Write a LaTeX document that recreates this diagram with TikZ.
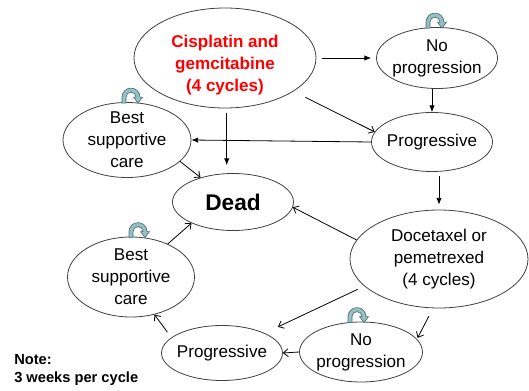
\documentclass[tikz,border=0pt]{standalone}
\usepackage{fontspec}
\setmainfont{Liberation Sans}
\usetikzlibrary{arrows.meta, shapes.geometric}
\definecolor{loopfill}{RGB}{152,192,194}
\definecolor{loopline}{RGB}{72,112,118}
\definecolor{drugred}{RGB}{255,0,0}
\tikzstyle{state}=[ellipse, draw=black!75, line width=0.6pt, inner sep=-8pt, align=center, font=\fontsize{12.8}{16.5}\selectfont]
\tikzstyle{drug}=[text=drugred, align=center, inner sep=0pt, font=\bfseries\fontsize{12.8}{16.5}\selectfont]
\tikzstyle{note}=[align=left, inner sep=0pt, font=\bfseries\fontsize{11}{13.5}\selectfont]
\tikzstyle{arrowfull}=[draw, -{Latex[length=5pt, width=4pt]}, line width=0.6pt]
\tikzstyle{arrowopen}=[draw, -{Straight Barb[length=3.5pt, width=6pt]}, line width=0.6pt]

% curved arrow sitting on top of a state
\newcommand{\selfloop}[2]{%
  \begin{scope}[shift={(#1.north)}, shift={(#2,0)}]
    \filldraw[fill=loopfill, draw=loopline, line width=0.5pt]
      (-9,-1) -- (-9,5) arc[start angle=180, end angle=0, radius=9]
      -- (11.5,5) -- (7,-1) -- (2.5,5) -- (5,5)
      arc[start angle=0, end angle=180, radius=5] -- (-5,-1) -- cycle;
  \end{scope}}

\begin{document}
\begin{tikzpicture}[x=0.75pt, y=0.75pt]
    \useasboundingbox (0,0) rectangle (529,390);

    \node[state, minimum width=136.5pt, minimum height=75pt,
      label={[drug, yshift=-5.25pt]center:{Cisplatin and\\gemcitabine\\(4 cycles)}}] (cis) at (225,332) {};
    \node[state, minimum width=90.75pt, minimum height=45.75pt] (noprogA) at (437,332) {No\\progression};
    \node[state, minimum width=90.75pt, minimum height=44.25pt] (progA) at (432,248) {Progressive};
    \node[state, minimum width=96pt, minimum height=56.25pt] (bscA) at (127,250) {Best\\supportive\\care};
    \node[state, minimum width=90.75pt, minimum height=42.75pt, font=\bfseries\fontsize{17}{20}\selectfont] (dead) at (233,188) {Dead};
    \node[state, minimum width=133.5pt, minimum height=73.5pt] (doce) at (439,131) {Docetaxel or\\pemetrexed\\(4 cycles)};
    \node[state, minimum width=92.25pt, minimum height=45pt] (noprogB) at (361,38) {No\\progression};
    \node[state, minimum width=90.75pt, minimum height=41.25pt] (progB) at (222,37) {Progressive};
    \node[state, minimum width=95.25pt, minimum height=60pt] (bscB) at (131,113) {Best\\supportive\\care};

    \node[note, anchor=west] (note) at (14,20) {Note:\\3 weeks per cycle};

    \selfloop{noprogA}{-2}
    \selfloop{bscA}{4}
    \selfloop{bscB}{7}
    \selfloop{noprogB}{-4}

    \draw[arrowfull, shorten <=4.5pt, shorten >=3.75pt] (cis.east) -- (noprogA.west);
    \draw[arrowfull] (noprogA.south -| progA.north) -- (progA.north);
    \draw[arrowopen, shorten <=10pt] (cis.-26) -- (progA.170);
    \draw[arrowfull] (progA.west) -- (bscA.east);
    \draw[arrowfull, shorten <=3.75pt, shorten >=6pt] (cis.-88) -- (cis.-88 |- dead.north);
    \draw[arrowopen] (bscA.-22) -- (dead.143);
    \draw[arrowfull, shorten <=3pt, shorten >=3.75pt] (progA.south -| doce.north) -- (doce.north);
    \draw[arrowopen] (doce.167) -- (dead.-5);
    \draw[arrowopen, shorten <=5.5pt, shorten >=11pt] (doce.200) -- (progB.25);
    \draw[arrowopen, shorten <=6.75pt, shorten >=1pt] (doce.263) -- (noprogB.13);
    \draw[arrowopen] (noprogB.west) -- (progB.east);
    \draw[arrowopen, shorten <=5pt] (progB.163) -- (bscB.-58);
    \draw[arrowopen] (bscB.42) -- (dead.207);
\end{tikzpicture}
\end{document}
